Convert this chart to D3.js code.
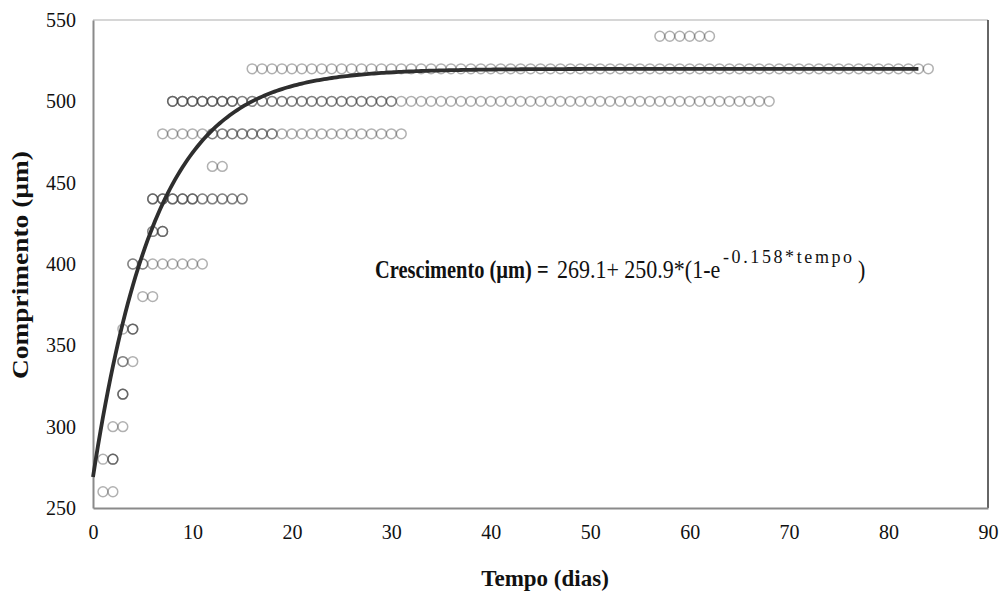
<!DOCTYPE html>
<html>
<head>
<meta charset="utf-8">
<script src="https://cdn.jsdelivr.net/npm/d3@7"></script>
<style>
  html, body { margin: 0; padding: 0; background: #fff; }
  svg { display: block; }
  text { font-family: "Liberation Serif", "Times New Roman", serif; fill: #111; }
</style>
</head>
<body>
<svg id="chart" width="1003" height="592"></svg>
<script>
// ---- Data ----
// Runs of observations: length (µm), first day, last day, number of overlapping observations
const segLength = [540, 520, 500, 500, 500, 480, 480, 480, 460, 440, 440, 420, 420, 400, 400, 380, 360, 360, 340, 340, 320, 300, 280, 280, 260];
const segStart  = [57,  16,  8,   15,  31,  7,   12,  19,  12,  6,   11,  6,   7,   4,   6,   5,   3,   4,   3,   4,   3,   2,   1,   2,   1];
const segEnd    = [62,  84,  14,  30,  68,  11,  18,  31,  13,  10,  15,  6,   7,   5,   11,  6,   3,   4,   3,   4,   3,   3,   1,   2,   2];
const segCount  = [1,   1,   3,   2,   1,   1,   2,   1,   1,   3,   2,   2,   3,   2,   1,   1,   1,   3,   2,   1,   3,   1,   1,   3,   1];

// Fitted model: Crescimento = a + b*(1 - exp(-k*tempo)), drawn for tempo 0..83
const fitParams = [269.1, 250.9, 0.158];
const fitRange = [0, 83];

const xTicks = [0, 10, 20, 30, 40, 50, 60, 70, 80, 90];
const yTicks = [250, 300, 350, 400, 450, 500, 550];

// ---- Layout ----
const svg = d3.select("#chart");
const pLeft = 93, pRight = 988, pTop = 20, pBottom = 508;
const serif = "'Liberation Serif', 'Times New Roman', serif";

const x = d3.scaleLinear().domain([0, 90]).range([pLeft, pRight]);
const y = d3.scaleLinear().domain([250, 550]).range([pBottom, pTop]);

// Expand runs to individual observations (one per day)
const obs = [];
segLength.forEach((len, i) => {
  for (let d = segStart[i]; d <= segEnd[i]; d++) {
    for (let c = 0; c < segCount[i]; c++) obs.push({ day: d, len: len });
  }
});

// Plot frame
svg.append("line").attr("x1", pLeft).attr("x2", pRight).attr("y1", pTop).attr("y2", pTop)
  .attr("stroke", "#c8c8c8").attr("stroke-width", 1.5);
svg.append("line").attr("x1", pRight).attr("x2", pRight).attr("y1", pTop).attr("y2", pBottom)
  .attr("stroke", "#333").attr("stroke-width", 1.5);

// Axes (lines only, no tick marks)
const xAxis = d3.axisBottom(x).tickValues(xTicks).tickSize(0).tickPadding(17).tickFormat(d3.format("d"));
const yAxis = d3.axisLeft(y).tickValues(yTicks).tickSize(0).tickPadding(17).tickFormat(d3.format("d"));

const gx = svg.append("g").attr("transform", `translate(0,${pBottom})`).call(xAxis);
const gy = svg.append("g").attr("transform", `translate(${pLeft},0)`).call(yAxis);
[gx, gy].forEach(g => {
  g.attr("font-family", serif).attr("font-size", 20);
  g.select(".domain").attr("stroke", "#8a8a8a").attr("stroke-width", 2);
  g.selectAll("text").style("font-family", serif).style("font-size", "20px").attr("fill", "#151515");
});

// Observation markers
svg.append("g").selectAll("circle").data(obs).join("circle")
  .attr("cx", d => x(d.day))
  .attr("cy", d => y(d.len))
  .attr("r", 4.9)
  .attr("fill", "none")
  .attr("stroke", "#3c3c3c")
  .attr("stroke-opacity", 0.4)
  .attr("stroke-width", 1.5);

// Fitted curve
const [pa, pb, pk] = fitParams;
const curvePts = d3.range(fitRange[0], fitRange[1] + 0.001, 0.25).map(t => [t, pa + pb * (1 - Math.exp(-pk * t))]);
svg.append("path")
  .datum(curvePts)
  .attr("fill", "none")
  .attr("stroke", "#2e2e2e")
  .attr("stroke-width", 3.8)
  .attr("stroke-linecap", "butt")
  .attr("d", d3.line().x(d => x(d[0])).y(d => y(d[1])));

// Axis titles
svg.append("text")
  .attr("x", 545).attr("y", 586)
  .attr("text-anchor", "middle")
  .style("font-size", "23px").style("font-weight", "bold")
  .text("Tempo (dias)");

svg.append("text")
  .attr("transform", "translate(28,265) rotate(-90)")
  .attr("text-anchor", "middle")
  .attr("textLength", 228).attr("lengthAdjust", "spacingAndGlyphs")
  .style("font-size", "23px").style("font-weight", "bold")
  .text("Comprimento (µm)");

// Equation annotation
svg.append("text").attr("transform", "translate(375,278) scale(1,1.2)")
  .style("font-size", "20.4px").style("font-weight", "bold")
  .text("Crescimento (µm) =");
svg.append("text").attr("transform", "translate(557,278) scale(1,1.12)")
  .style("font-size", "22px")
  .text("269.1+ 250.9*(1-e");
svg.append("text").attr("x", 723).attr("y", 263)
  .style("font-size", "18px").style("letter-spacing", "2.6px")
  .text("-0.158*tempo");
svg.append("text").attr("transform", "translate(858,278) scale(1,1.12)")
  .style("font-size", "22px")
  .text(")");
</script>
</body>
</html>
